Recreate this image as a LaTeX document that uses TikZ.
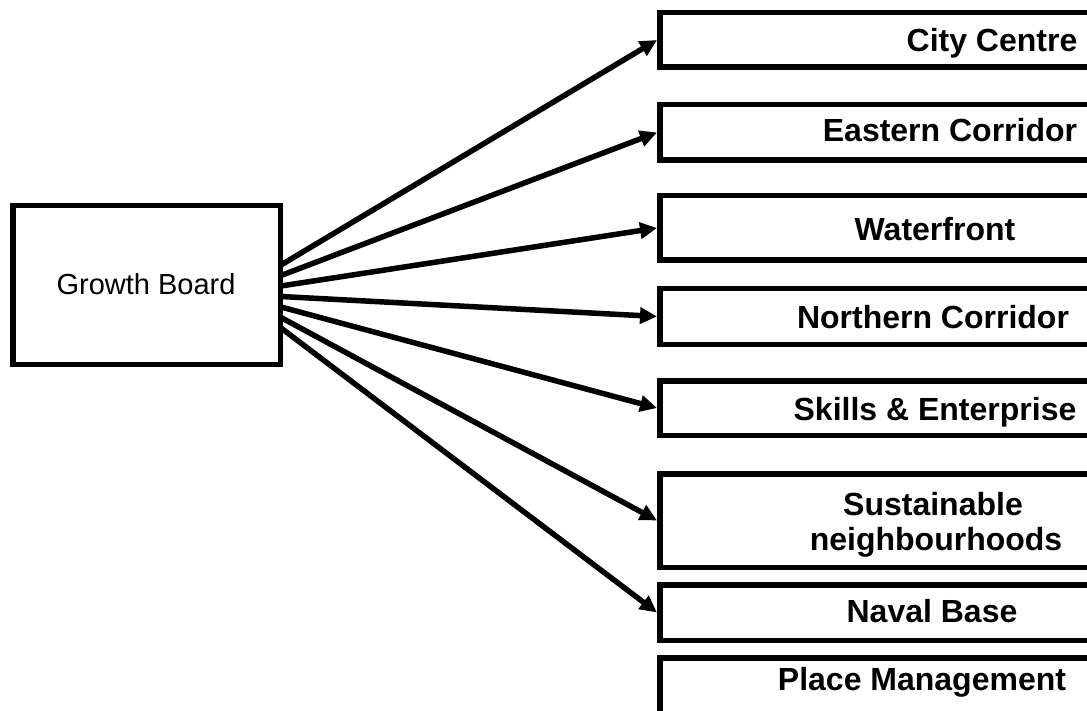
\documentclass[tikz,border=0pt]{standalone}
\usepackage{fontspec}
\setmainfont{Liberation Sans}
\usetikzlibrary{arrows.meta}
\tikzset{
  box/.style={draw=black, line width=5.5pt, fill=white, anchor=north west, inner sep=0pt, minimum width=460pt},
  lbl/.style={anchor=base, inner sep=0pt, font=\fontsize{32}{34}\selectfont\bfseries},
  conn/.style={line width=5.5pt, -{Triangle[length=17pt,width=16pt]}},
}
\begin{document}
\begin{tikzpicture}[x=1pt,y=-1pt]
\useasboundingbox (0,0) rectangle (1087,711);
% source
\node[box, minimum width=267.5pt, minimum height=158.5pt] (gb) at (10,203) {};
\node[anchor=base, inner sep=0pt, font=\fontsize{29}{31}\selectfont] (gbt) at (146,295) {Growth Board};
% targets
\node[box, minimum height=54.5pt] (cc) at (657,10) {};
\node[box, minimum height=55.5pt] (ec) at (657,102) {};
\node[box, minimum height=64.5pt] (wf) at (657,193) {};
\node[box, minimum height=55.5pt] (nc) at (657,286) {};
\node[box, minimum height=54.5pt] (se) at (657,378) {};
\node[box, minimum height=93.5pt] (sn) at (657,471) {};
\node[box, minimum height=55.5pt] (nb) at (657,582) {};
\node[box, minimum height=100pt] (pm) at (657,655) {};
% labels
\node[lbl] (cct) at (992,52) {City Centre};
\node[lbl] (ect) at (950,142) {Eastern Corridor};
\node[lbl] (wft) at (935,241) {Waterfront};
\node[lbl] (nct) at (933,328) {Northern Corridor};
\node[lbl] (set) at (935,420) {Skills \& Enterprise};
\node[lbl] (snt1) at (933,515) {Sustainable};
\node[lbl] (snt2) at (936,550) {neighbourhoods};
\node[lbl] (nbt) at (932,622) {Naval Base};
\node[lbl] (pmt) at (922,690) {Place Management};
% start points
\coordinate (s1) at ([xshift=-2pt,yshift=20pt]gb.east);
\coordinate (s2) at ([xshift=-2pt,yshift=9.5pt]gb.east);
\coordinate (s3) at ([xshift=-2pt,yshift=-1pt]gb.east);
\coordinate (s4) at ([xshift=-2pt,yshift=-11.5pt]gb.east);
\coordinate (s5) at ([xshift=-2pt,yshift=-22pt]gb.east);
\coordinate (s6) at ([xshift=-2pt,yshift=-32.5pt]gb.east);
\coordinate (s7) at ([xshift=-2pt,yshift=-43pt]gb.east);
\draw[conn] (s1) -- (cc.west);
\draw[conn] (s2) -- (ec.west);
\draw[conn] (s3) -- (wf.west);
\draw[conn] (s4) -- (nc.west);
\draw[conn] (s5) -- (se.west);
\draw[conn] (s6) -- (sn.west);
\draw[conn] (s7) -- (nb.west);
\end{tikzpicture}
\end{document}
